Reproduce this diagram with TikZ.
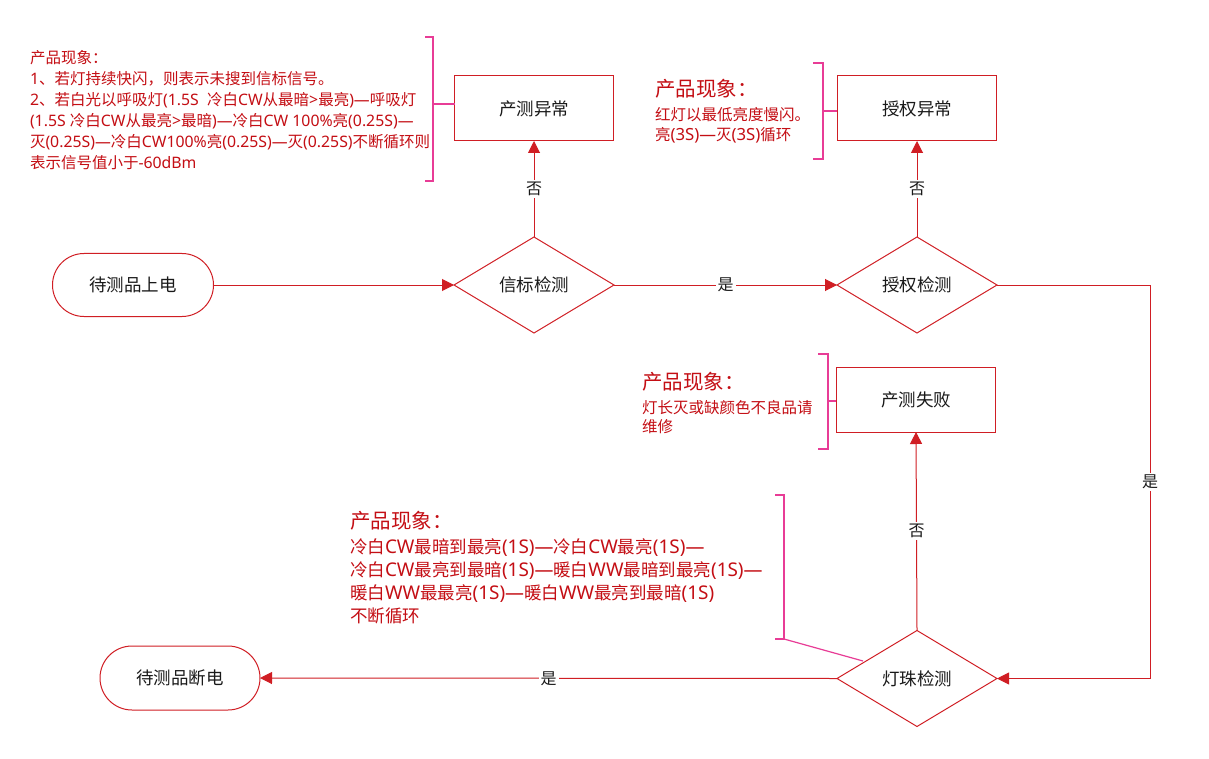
\documentclass[tikz,border=0pt]{standalone}
\usepackage{fontspec}
\setmainfont{Noto Sans}[Scale=1.08]
\newfontfamily\latB{Noto Sans}[Scale=1.08]
\newfontfamily\latA{Noto Sans}[Scale=1.02]
\newcommand\latf{\latB}
\newfontfamily\cjkf{Noto Sans CJK SC}
\newXeTeXintercharclass\mycjk
\makeatletter
\count@=0
\loop \XeTeXcharclass\count@=0 \advance\count@ 1 \ifnum\count@<"3000 \repeat
\count@="3000
\loop \XeTeXcharclass\count@=\mycjk \advance\count@ 1 \ifnum\count@<"A000 \repeat
\count@="FF00
\loop \XeTeXcharclass\count@=\mycjk \advance\count@ 1 \ifnum\count@<"FFF0 \repeat
\makeatother
\XeTeXinterchartoks 0 \mycjk = {\cjkf}
\XeTeXinterchartoks 4095 \mycjk = {\cjkf}
\XeTeXinterchartoks \mycjk 0 = {\latf}
\XeTeXinterchartoks 4095 0 = {\latf}
\XeTeXinterchartokenstate=1
\usetikzlibrary{shapes.geometric,shapes.misc,arrows.meta}
\definecolor{lr}{RGB}{208,30,36}
\definecolor{tr}{RGB}{196,14,20}
\definecolor{pk}{RGB}{232,60,150}
\definecolor{tx}{RGB}{25,25,25}
\begin{document}
\begin{tikzpicture}[x=1pt,y=-1pt,
 every node/.style={inner sep=0pt, outer sep=0pt},
 term/.style={rounded rectangle, draw=lr, line width=1pt, fill=white, minimum width=161pt, minimum height=63pt, font=\fontsize{17.5}{20}\selectfont, text=tx},
 box/.style={rectangle, draw=lr, line width=1pt, fill=white, minimum width=159pt, minimum height=65pt, font=\fontsize{17.5}{20}\selectfont, text=tx},
 dec/.style={diamond, draw=lr, line width=1pt, fill=white, minimum width=160pt, minimum height=96pt, font=\fontsize{17.5}{20}\selectfont, text=tx},
 flow/.style={draw=lr, line width=1pt, -{Triangle[length=12pt,width=12pt]}},
 lab/.style={fill=white, inner sep=2pt, font=\fontsize{16}{18}\selectfont, text=tx},
 br/.style={draw=pk, line width=1.2pt},
 note/.style={text=tr, align=left, anchor=north west},
 head/.style={text=tr, anchor=base west, font=\fontsize{20.5}{24}\selectfont}
]
\fill[white] (0,0) rectangle (1209,759);
\useasboundingbox (0,0) rectangle (1209,759);

% main nodes
\node[term] (start) at (133,285) {待测品上电};
\node[dec]  (beacon) at (534,285) {信标检测};
\node[dec]  (auth) at (917,285) {授权检测};
\node[box]  (err1) at (534,108.5) {产测异常};
\node[box]  (err2) at (917,108.5) {授权异常};
\node[box]  (fail) at (916,399.5) {产测失败};
\node[dec]  (lamp) at (917,678.5) {灯珠检测};
\node[term, minimum width=160pt, minimum height=64pt] (end) at (180,678) {待测品断电};

\coordinate (turn) at (1150,285);
\coordinate (corner) at (1150,678.5);

% connectors
\draw[flow] (start.east) -- (beacon.west);
\draw[flow] (beacon.north) -- node[lab]{否} (err1.south);
\draw[flow] (beacon.east) -- node[lab]{是} (auth.west);
\draw[flow] (auth.north) -- node[lab]{否} (err2.south);
\draw[flow] (auth.east) -- (turn) -- node[lab]{是} (corner) -- (lamp.east);
\draw[flow] (lamp.north) -- node[lab]{否} (fail.south);
\draw[flow] (lamp.west) -- node[lab]{是} (end.east);

% brackets
\draw[br] (425,37) -- (433,37) -- (433,181) -- (425,181);
\draw[br] (433,104) -- (455,104);
\draw[br] (813,63) -- (823,63) -- (823,159) -- (813,159);
\draw[br] (823,111) -- (837,111);
\draw[br] (818,354) -- (828,354) -- (828,449) -- (818,449);
\draw[br] (828,401) -- (836,401);
\draw[br] (775,495) -- (784,495) -- (784,639) -- (775,639);
\draw[br] (784,639) -- (863,661);

% notes
\node[note, font=\renewcommand\latf{\latA}\fontsize{15.5}{21}\selectfont] (n1) at (30,50) {产品现象：\\1、若灯持续快闪，则表示未搜到信标信号。\\2、若白光以呼吸灯(1.5S\ \ 冷白CW从最暗>最亮)—呼吸灯\\(1.5S 冷白CW从最亮>最暗)—冷白CW 100\%亮(0.25S)—\\灭(0.25S)—冷白CW100\%亮(0.25S)—灭(0.25S)不断循环则\\表示信号值小于-60dBm};

\node[head] (h2) at (655,97) {产品现象：};
\node[note, font=\fontsize{15.5}{20}\selectfont] (n2) at (655,107) {红灯以最低亮度慢闪。\\亮(3S)—灭(3S)循环};

\node[head] (h3) at (642,389) {产品现象：};
\node[note, font=\fontsize{15.5}{19.5}\selectfont] (n3) at (642,400) {灯长灭或缺颜色不良品请\\维修};

\node[head] (h4) at (350,528) {产品现象：};
\node[note, font=\fontsize{17.5}{23}\selectfont] (n4) at (350,539) {冷白CW最暗到最亮(1S)—冷白CW最亮(1S)—\\冷白CW最亮到最暗(1S)—暖白WW最暗到最亮(1S)—\\暖白WW最最亮(1S)—暖白WW最亮到最暗(1S)\\不断循环};
\end{tikzpicture}
\end{document}
